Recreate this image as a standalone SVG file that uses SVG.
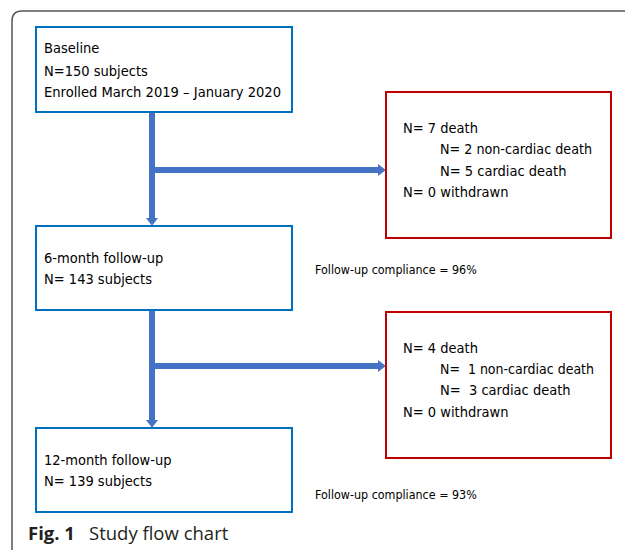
<svg xmlns="http://www.w3.org/2000/svg" width="625" height="550" viewBox="0 0 625 550">
<defs>
<style>
.t{font-family:"DejaVu Sans Condensed","Liberation Sans",sans-serif;font-size:14.5px;fill:#000}
.s{font-family:"DejaVu Sans Condensed","Liberation Sans",sans-serif;font-size:12.4px;fill:#000}
.bb{fill:#fff;stroke:#0070C0;stroke-width:2}
.rb{fill:#fff;stroke:#C00000;stroke-width:2}
.c{stroke:#4472C4;stroke-width:6;fill:none}
</style>
<marker id="ah" markerWidth="1.3" markerHeight="2" refX="0" refY="1" orient="auto" markerUnits="strokeWidth" viewBox="0 0 1.3 2">
<path d="M0,0 L1.3,1 L0,2 Z" fill="#4472C4"/>
</marker>
</defs>
<rect width="625" height="550" fill="#fff"/>
<path d="M12,550 V21 Q12,11 22,11 H625" fill="none" stroke="#555" stroke-width="1.5"/>
<g id="connectors">
<path class="c" d="M152,112 V218" marker-end="url(#ah)"/>
<path class="c" d="M152,170 H378" marker-end="url(#ah)"/>
<path class="c" d="M152,310 V420" marker-end="url(#ah)"/>
<path class="c" d="M152,366 H378" marker-end="url(#ah)"/>
</g>
<g id="baseline">
<rect class="bb" x="36" y="27" width="256" height="85"/>
<text class="t" x="44" y="53">Baseline</text>
<text class="t" x="44" y="76">N=150 subjects</text>
<text class="t" x="44" y="97" textLength="237" lengthAdjust="spacingAndGlyphs">Enrolled March 2019 – January 2020</text>
</g>
<g id="exclusion1">
<rect class="rb" x="386" y="92" width="225" height="146"/>
<text class="t" x="403" y="133">N= 7 death</text>
<text class="t" x="440" y="154" textLength="152" lengthAdjust="spacingAndGlyphs">N= 2 non-cardiac death</text>
<text class="t" x="440" y="176">N= 5 cardiac death</text>
<text class="t" x="403" y="197">N= 0 withdrawn</text>
</g>
<g id="month6">
<rect class="bb" x="36" y="226" width="256" height="84"/>
<text class="t" x="44" y="263">6-month follow-up</text>
<text class="t" x="44" y="284">N= 143 subjects</text>
</g>
<g id="compliance1">
<text class="s" x="315" y="274">Follow-up compliance = 96%</text>
</g>
<g id="exclusion2">
<rect class="rb" x="386" y="312" width="225" height="146"/>
<text class="t" x="403" y="353">N= 4 death</text>
<text class="t" x="440" y="374" xml:space="preserve" textLength="154" lengthAdjust="spacingAndGlyphs">N=  1 non-cardiac death</text>
<text class="t" x="440" y="395" xml:space="preserve">N=  3 cardiac death</text>
<text class="t" x="403" y="417">N= 0 withdrawn</text>
</g>
<g id="month12">
<rect class="bb" x="36" y="428" width="256" height="84"/>
<text class="t" x="44" y="465">12-month follow-up</text>
<text class="t" x="44" y="486">N= 139 subjects</text>
</g>
<g id="compliance2">
<text class="s" x="315" y="499">Follow-up compliance = 93%</text>
</g>
<g id="caption">
<text x="28" y="540" font-family="'Open Sans','Liberation Sans',sans-serif" font-size="18.5" fill="#231f20"><tspan font-weight="bold">Fig. 1</tspan><tspan x="89">Study flow chart</tspan></text>
</g>
</svg>
